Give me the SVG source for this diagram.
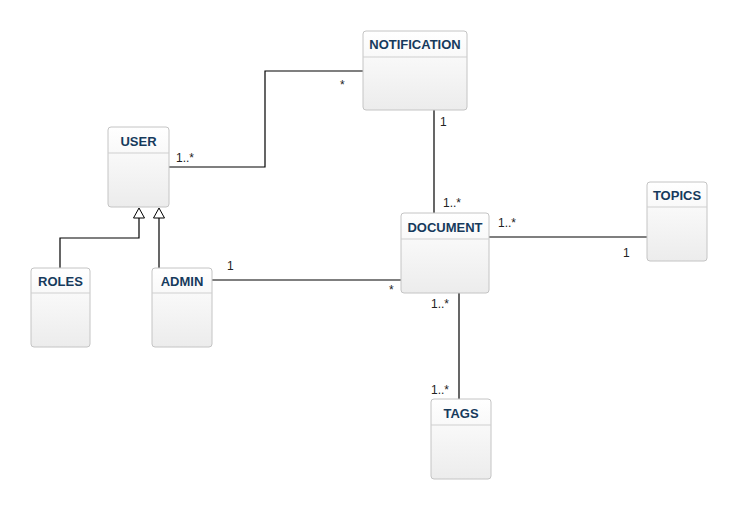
<svg xmlns="http://www.w3.org/2000/svg" width="737" height="509" viewBox="0 0 737 509">
<defs>
<linearGradient id="g" x1="0" y1="0" x2="0" y2="1">
<stop offset="0" stop-color="#ffffff"/>
<stop offset="1" stop-color="#ececec"/>
</linearGradient>
<style>
.box{fill:url(#g);stroke:#c4c4c4;stroke-width:1}
.div{stroke:#cfcfcf;stroke-width:1}
.t{font-family:"Liberation Sans",Arial,sans-serif;font-weight:bold;font-size:13px;fill:#163a5c;text-anchor:middle}
.lbl{font-family:"Liberation Sans",Arial,sans-serif;font-size:12px;fill:#222}
.c{fill:none;stroke:#000;stroke-width:1.2}
.gen{fill:#fff;stroke:#000;stroke-width:1}
</style>
</defs>
<rect width="737" height="509" fill="#fff"/>
<g id="connectors">
<polyline class="c" points="169,167 265,167 265,71 363,71"/>
<line class="c" x1="434" y1="110" x2="434" y2="213"/>
<line class="c" x1="489" y1="237" x2="647" y2="237"/>
<line class="c" x1="212" y1="280" x2="401" y2="280"/>
<line class="c" x1="459" y1="293" x2="459" y2="399"/>
<polyline class="c" points="60,268 60,238 139,238 139,218"/>
<line class="c" x1="159" y1="268" x2="159" y2="218"/>
<polygon class="gen" points="139,208 133.5,218 144.5,218"/>
<polygon class="gen" points="159,208 153.5,218 164.5,218"/>
<text class="lbl" x="176" y="162">1..*</text>
<text class="lbl" x="340" y="89">*</text>
<text class="lbl" x="440" y="126">1</text>
<text class="lbl" x="443" y="207">1..*</text>
<text class="lbl" x="498" y="227">1..*</text>
<text class="lbl" x="623" y="257">1</text>
<text class="lbl" x="227" y="270">1</text>
<text class="lbl" x="389" y="294">*</text>
<text class="lbl" x="431" y="308">1..*</text>
<text class="lbl" x="431" y="394">1..*</text>
</g>
<g id="user">
<rect class="box" x="108" y="127" width="61" height="80" rx="3"/>
<line class="div" x1="108" y1="153" x2="169" y2="153"/>
<text class="t" x="138.5" y="146">USER</text>
</g>
<g id="notification">
<rect class="box" x="363" y="31" width="104" height="79" rx="3"/>
<line class="div" x1="363" y1="57" x2="467" y2="57"/>
<text class="t" x="415" y="49">NOTIFICATION</text>
</g>
<g id="roles">
<rect class="box" x="31" y="268" width="59" height="79" rx="3"/>
<line class="div" x1="31" y1="293" x2="90" y2="293"/>
<text class="t" x="60.5" y="286">ROLES</text>
</g>
<g id="admin">
<rect class="box" x="152" y="268" width="60" height="79" rx="3"/>
<line class="div" x1="152" y1="293" x2="212" y2="293"/>
<text class="t" x="182" y="286">ADMIN</text>
</g>
<g id="document">
<rect class="box" x="401" y="213" width="88" height="80" rx="3"/>
<line class="div" x1="401" y1="239" x2="489" y2="239"/>
<text class="t" x="445" y="232">DOCUMENT</text>
</g>
<g id="topics">
<rect class="box" x="647" y="182" width="60" height="79" rx="3"/>
<line class="div" x1="647" y1="207" x2="707" y2="207"/>
<text class="t" x="677" y="200">TOPICS</text>
</g>
<g id="tags">
<rect class="box" x="431" y="399" width="60" height="80" rx="3"/>
<line class="div" x1="431" y1="425" x2="491" y2="425"/>
<text class="t" x="461" y="418">TAGS</text>
</g>
</svg>
